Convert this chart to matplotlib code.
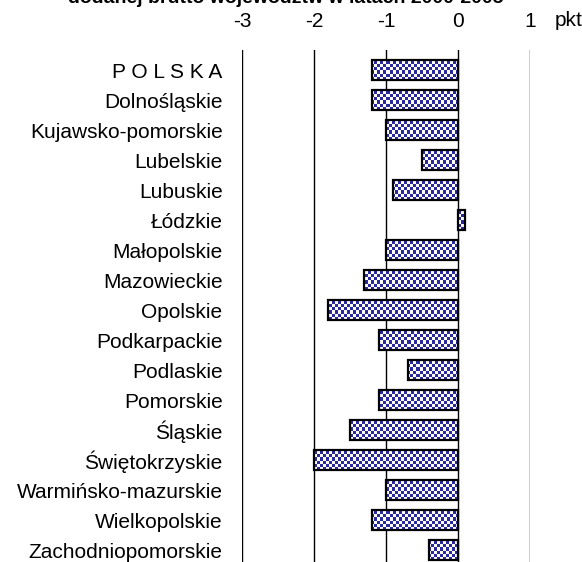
import numpy as np
import matplotlib.pyplot as plt

regions = ['P O L S K A', 'Dolnośląskie', 'Kujawsko-pomorskie', 'Lubelskie', 'Lubuskie',
           'Łódzkie', 'Małopolskie', 'Mazowieckie', 'Opolskie', 'Podkarpackie',
           'Podlaskie', 'Pomorskie', 'Śląskie', 'Świętokrzyskie', 'Warmińsko-mazurskie',
           'Wielkopolskie', 'Zachodniopomorskie']
change = [-1.2, -1.2, -1.0, -0.5, -0.9, 0.1, -1.0, -1.3, -1.8, -1.1,
          -0.7, -1.1, -1.5, -2.0, -1.0, -1.2, -0.4]
ticks = [-3, -2, -1, 0, 1]

plt.rcParams['font.family'] = ['Liberation Sans', 'DejaVu Sans']
fs = 15

fig = plt.figure(figsize=(5.82, 5.62), dpi=100)
ax = fig.add_axes([242/582, 0, 288/582, 1 - 50/562])

y = np.arange(len(regions))
for t in ticks:
    ax.axvline(t, color='black', lw=1, zorder=1)

xlim = (-3, 1)
ylim = (16.4, -0.67)

# checkered fill: pixel-level checkerboard, clipped to each bar
h, w = 512, 288
yy, xx = np.mgrid[0:h, 0:w]
mask = ((yy // 3) + (xx // 3)) % 2 == 0
img = np.ones((h, w, 3))
img[mask] = np.array([0x2a, 0x2a, 0x9e]) / 255

bars = ax.barh(y, change, height=0.67, color='none', edgecolor='black', lw=1.6, zorder=3)
for b in bars:
    im = ax.imshow(img, extent=(xlim[0], xlim[1], ylim[0], ylim[1]), aspect='auto',
                   interpolation='none', zorder=2)
    im.set_clip_path(b)

ax.set_xlim(*xlim)
ax.set_ylim(*ylim)
ax.set_yticks(y)
ax.set_yticklabels(regions, fontsize=fs)
ax.tick_params(axis='y', length=0, pad=14)
ax.xaxis.tick_top()
ax.set_xticks(ticks)
ax.set_xticklabels([str(t) for t in ticks], fontsize=fs)
ax.tick_params(axis='x', length=0, pad=14)
for s in ax.spines.values():
    s.set_visible(False)

fig.text(569/582, 1 - 21/562, 'pkt', fontsize=fs, ha='center', va='center')
fig.text(286/582, 1 - 3/562, 'dodanej brutto województw w latach 2000-2005',
         fontsize=14, fontweight='bold', ha='center', va='baseline')

fig.savefig('out.png', dpi=100)
